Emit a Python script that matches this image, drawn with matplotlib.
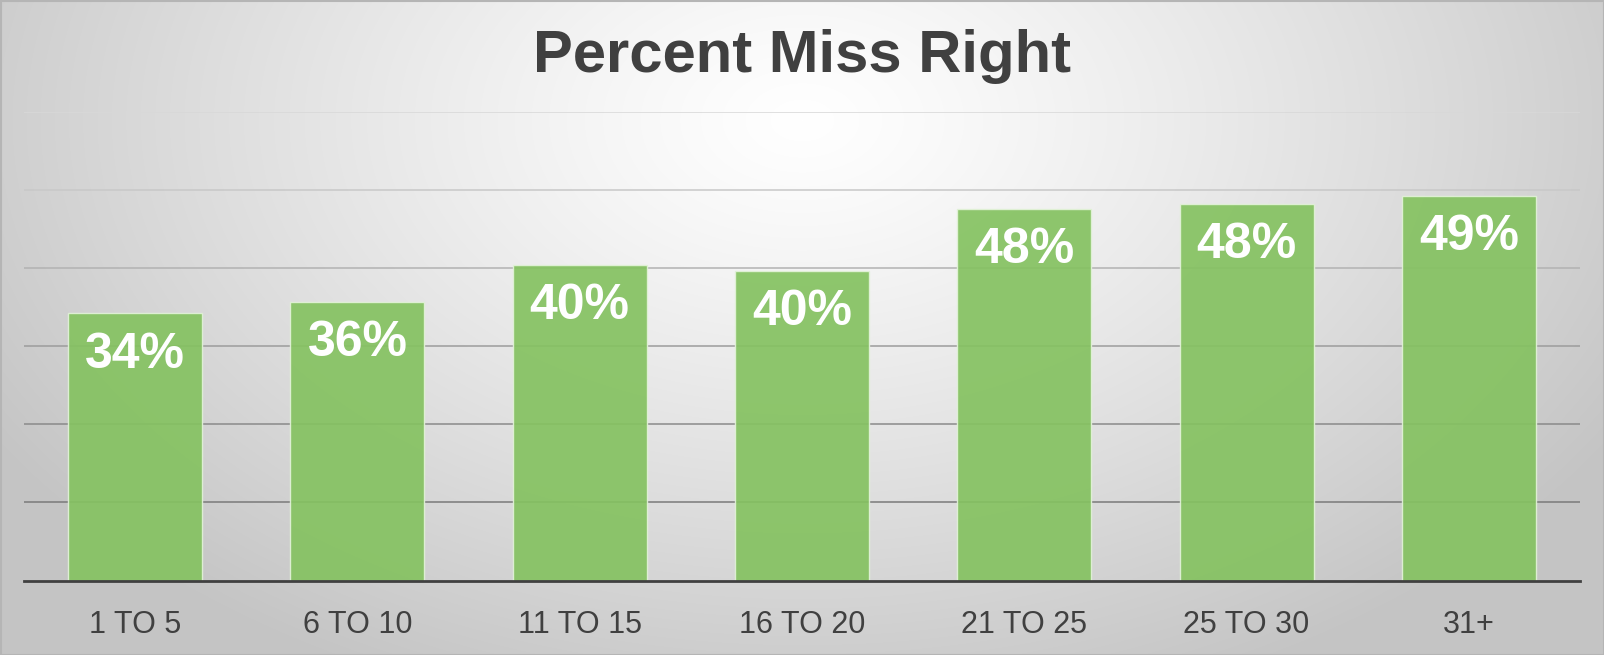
import numpy as np
import matplotlib
matplotlib.use("Agg")
import matplotlib.pyplot as plt

categories = ["1 TO 5", "6 TO 10", "11 TO 15", "16 TO 20", "21 TO 25", "25 TO 30", "31+"]
values = [0.342, 0.357, 0.404, 0.397, 0.476, 0.482, 0.492]
labels = ["34%", "36%", "40%", "40%", "48%", "48%", "49%"]
title = "Percent Miss Right"

plt.rcParams['font.family'] = ['Liberation Sans', 'DejaVu Sans']

W, H = 1604, 655
fig = plt.figure(figsize=(W / 100, H / 100), dpi=100)

# radial gradient background
bg = fig.add_axes([0, 0, 1, 1], zorder=-10)
yy, xx = np.mgrid[0:H, 0:W]
r = np.sqrt(((xx - 802) / 950.0) ** 2 + ((yy - 120) / 620.0) ** 2)
r = np.clip(r, 0, 1)
g = 1.0 - (1.0 - 0.77) * r ** 1.2
img = np.dstack([g, g, g])
bg.imshow(img, extent=[0, W, H, 0], aspect='auto', interpolation='bilinear')
bg.set_xlim(0, W)
bg.set_ylim(H, 0)
bg.axis('off')
bg.add_patch(plt.Rectangle((0.5, 0.5), W - 1, H - 1, fill=False, ec='#b5b5b5', lw=1.5))

ax = fig.add_axes([24 / W, (H - 580.5) / H, (1580 - 24) / W, (580.5 - 112) / H])
ax.patch.set_alpha(0)
x = np.arange(len(categories))
bars = ax.bar(x, values, width=0.603, color=(0.52, 0.76, 0.38), alpha=0.92,
              edgecolor='#e2f2d8', linewidth=1.0, zorder=3)

ax.set_xlim(-0.5, len(categories) - 0.5)
ax.set_ylim(0, 0.6)
ax.set_yticks(np.arange(0.1, 0.61, 0.1))
ax.yaxis.grid(True, zorder=0)
ax.set_axisbelow(True)
grid_cols = ['#7a7a7a', '#8a8a8a', '#9c9c9c', '#b2b2b2', '#c8c8c8', '#d8d8d8']
for gl, c in zip(ax.get_ygridlines(), grid_cols):
    gl.set_color(c)
    gl.set_linewidth(1.1)
ax.tick_params(axis='y', left=False, labelleft=False)
ax.tick_params(axis='x', bottom=False, pad=18, labelsize=22, labelcolor='#404040')
ax.set_xticks(x)
ax.set_xticklabels(categories)
for s in ['top', 'right', 'left']:
    ax.spines[s].set_visible(False)
ax.spines['bottom'].set_color('#404040')
ax.spines['bottom'].set_linewidth(2.0)
ax.spines['bottom'].set_zorder(5)

for xi, v, lab in zip(x, values, labels):
    ax.annotate(lab, (xi, v), xytext=(0, -39), textcoords='offset points',
                ha='center', va='baseline', color='white', fontsize=36,
                fontweight='bold', zorder=6)

fig.text(0.5, (H - 72.5) / H, title, ha='center', va='baseline', fontsize=43,
         fontweight='bold', color='#404040')

fig.savefig('out.png', dpi=100)
